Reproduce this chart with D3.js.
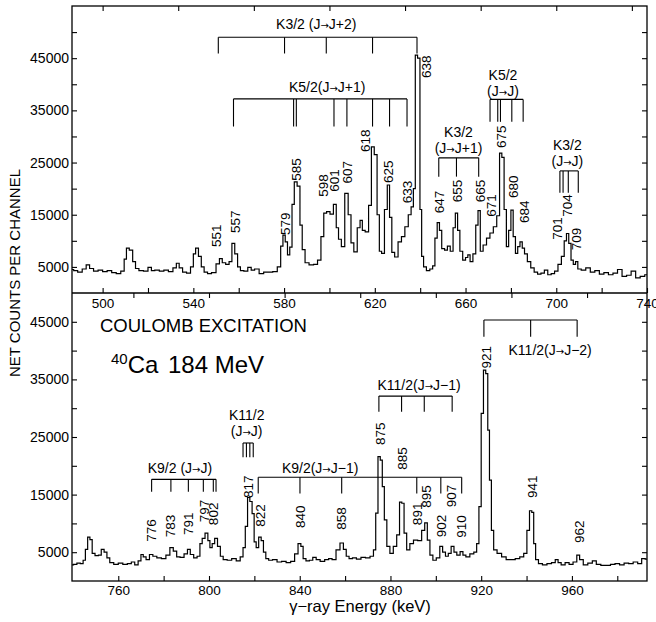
<!DOCTYPE html>
<html>
<head>
<meta charset="utf-8">
<script src="https://cdn.jsdelivr.net/npm/d3@7"></script>
<style>
  body { margin: 0; background: #fff; }
  svg { font-family: "Liberation Sans", Arial, sans-serif; }
</style>
</head>
<body>
<svg id="chart" width="656" height="622"></svg>
<script>
// net counts per channel, [keV, counts]
const upperSpectrum = [
  [486.5, 4500], [488, 4300], [490, 4000], [492, 4600], [493.5, 5400], [495, 4700], [497, 4200],
  [499, 4400], [501, 4100], [503, 4300], [505, 3900], [507, 3700], [509, 4200], [510, 6500],
  [511, 8600], [512.5, 8200], [514, 6000], [515, 4700], [517, 4300], [519, 4200], [521, 4900],
  [522, 4300], [524, 4400], [526, 4200], [528, 4400], [530, 4100], [532, 4800], [533, 5700],
  [534.5, 4800], [536, 4000], [538, 3800], [539.5, 5000], [540.5, 7500], [541.5, 8600], [543, 7000],
  [544, 5000], [545.5, 4000], [547, 3700], [549, 3900], [551, 5600], [552, 6600], [553.5, 5800],
  [555, 5500], [556.5, 6000], [557.5, 9500], [559, 7500], [560, 5000], [561.5, 4300], [563, 4200],
  [565, 4900], [566, 4400], [568, 4600], [570, 3700], [572, 4000], [574, 4000], [576, 4100],
  [578, 5000], [579, 9000], [580, 11100], [581, 9800], [582, 7300], [583, 8800], [584, 17000],
  [585, 21300], [586.5, 20500], [587.5, 13000], [588.5, 8300], [590, 5800], [592, 5400], [594, 5500],
  [595.5, 6300], [597, 10800], [598, 15300], [599.5, 15600], [601, 15100], [602.5, 17000],
  [603.5, 12500], [604.5, 10300], [606, 8900], [607.5, 19100], [609, 15000], [610, 9600],
  [611.5, 7900], [613, 12500], [614, 13900], [615, 12000], [616.5, 11700], [618, 16800],
  [619, 28000], [620.5, 26500], [621.5, 15000], [622.5, 8000], [623.5, 7600], [625, 16000],
  [626, 20700], [627, 14500], [628, 7800], [629.5, 6900], [631, 9800], [632.5, 10800], [634, 12700],
  [635.5, 15000], [636.5, 16500], [637.5, 20000], [638.2, 45600], [639.5, 45000], [640.3, 16000],
  [641, 7000], [642, 5000], [643.5, 4300], [645, 4600], [646, 5200], [647, 10500], [648, 13500],
  [649, 12000], [650, 8500], [651.5, 8200], [652.5, 9000], [654, 8000], [655, 12500], [656, 15300],
  [657, 12000], [658, 8000], [659.5, 6300], [660.5, 6800], [661.5, 7300], [662.5, 6000], [664, 7500],
  [665, 13000], [666, 15800], [667, 8000], [668.5, 9200], [670, 10500], [671.5, 11500], [673, 12700],
  [674.5, 14800], [675.5, 26800], [676.5, 26000], [677.5, 16000], [678.5, 8900], [679.5, 12000],
  [680.5, 15900], [681.5, 10800], [682.5, 7600], [683.5, 8900], [684.5, 9800], [685.5, 8600],
  [686.5, 7500], [688, 6000], [689.5, 4800], [691, 4000], [692.5, 3600], [694, 3800], [695.5, 4400],
  [697, 3500], [698.5, 3700], [700, 4200], [701.5, 5500], [703, 7000], [704, 10000], [705, 11400],
  [706, 9500], [707, 6300], [708, 5500], [709, 6000], [710, 4600], [712, 4400], [714, 4800],
  [716, 4000], [718, 4300], [720, 3600], [722, 3900], [724, 3500], [726, 3800], [728, 4500],
  [730, 3200], [732, 3400], [734, 4200], [736, 2900], [738, 3200], [740, 3500]
];

const lowerSpectrum = [
  [739.6, 2800], [741, 2900], [742.5, 3100], [744, 3000], [745, 3600], [746, 5500], [747, 7600],
  [748, 7200], [749, 4800], [750.5, 4400], [752, 4500], [753, 5500], [754.5, 5000], [755.5, 4000],
  [757, 3200], [759, 2900], [761, 3100], [763, 2900], [765, 3000], [766.5, 3300], [768, 2800],
  [769.5, 3500], [770.5, 4600], [771.5, 4200], [773, 3700], [774.5, 4600], [776, 4300], [778, 4000],
  [780, 3900], [782, 4500], [783.5, 5800], [785, 5200], [786.5, 4200], [788, 4100], [790, 4700],
  [791, 5500], [792.5, 4600], [794, 4000], [795.5, 4300], [796.5, 6500], [797.5, 7400], [799, 8300],
  [800, 7000], [800.8, 5800], [802, 6500], [803, 7400], [804.5, 6000], [805.5, 4300], [807, 3700],
  [809, 3600], [811, 3900], [813, 3500], [814.5, 4200], [815.5, 5800], [816.5, 9500], [817.5, 14500],
  [818.5, 13800], [819.5, 11700], [820.3, 6800], [821.3, 5800], [822.5, 7600], [823.5, 7000],
  [824.5, 5000], [825.6, 3900], [827, 3600], [829, 3700], [831, 3300], [833, 3400], [835, 3200],
  [837, 3400], [838.5, 4700], [840, 6500], [841, 6000], [842, 3900], [843.5, 3500], [845, 3600],
  [846.5, 4100], [848, 3700], [850, 3400], [852, 3700], [853.5, 3900], [855, 3700], [857, 5400],
  [858.5, 6600], [860, 5500], [861, 4300], [862.5, 3900], [864, 4000], [866, 3800], [868, 4100],
  [870, 4000], [872, 4300], [873, 5400], [874, 11800], [875, 21600], [876, 21000], [876.8, 16400],
  [877.8, 10600], [879, 6000], [880.5, 4800], [882, 6000], [883.5, 8000], [884.5, 13700],
  [885.5, 13500], [886.5, 8300], [887.8, 5400], [889.3, 6500], [891, 7100], [893, 7000],
  [894.5, 8800], [895.7, 10100], [896.8, 7100], [898, 4500], [899.4, 3600], [901, 4000],
  [902.5, 6000], [903.5, 5000], [905, 4300], [906, 4800], [907.5, 6000], [908.5, 5000], [910, 4500],
  [911.4, 5100], [912.5, 4500], [914, 4200], [916, 4700], [917.5, 5000], [918.5, 6500],
  [919.5, 12900], [920.5, 29100], [921.5, 36600], [922.5, 36000], [923.3, 26200], [924, 17500],
  [925, 8800], [926, 5400], [928, 4800], [930, 4200], [932, 3700], [934, 3700], [936, 3900],
  [938, 4200], [939.5, 4800], [940.8, 8800], [941.8, 12200], [942.8, 11900], [943.5, 6500],
  [944.5, 3700], [946, 3000], [948, 2800], [950, 3000], [952, 3200], [953.3, 3700], [954.5, 3200],
  [956, 2800], [958, 3200], [959.5, 2900], [961.5, 3300], [962.8, 4500], [964, 3700], [966, 2800],
  [968, 3100], [970, 3500], [971.5, 2900], [974, 2700], [976, 2700], [978, 2900], [980, 3000],
  [982, 2800], [984, 3100], [986, 3000], [988, 3300], [990, 3000], [991.5, 3900], [993.1, 3800]
];

// axis ticks / labels
const upperXTicks = [500, 520, 540, 560, 580, 600, 620, 640, 660, 680, 700, 720, 740];
const upperXLabels = [500, 540, 580, 620, 660, 700, 740];
const upperEdgeTicks = [500, 533.33, 566.67, 600, 633.33, 666.67, 700, 733.33];
const lowerXTicks = [760, 780, 800, 820, 840, 860, 880, 900, 920, 940, 960, 980];
const lowerXLabels = [760, 800, 840, 880, 920, 960];
const lowerEdgeTicks = [766.67, 800, 833.33, 866.67, 900, 933.33, 966.67];
const upperYTicks = [5000, 10000, 15000, 20000, 25000, 30000, 35000, 40000, 45000, 50000];
const lowerYTicks = [5000, 10000, 15000, 20000, 25000, 30000, 35000, 40000, 45000];
const yLabels = [5000, 15000, 25000, 35000, 45000];

// peak energy labels: text, [keV, counts] where the rotated label starts
const upperPeakNames = ['551', '557', '579', '585', '598', '601', '607', '618', '625', '633', '638',
  '647', '655', '665', '671', '675', '680', '684', '701', '704', '709'];
const upperPeakSpots = [[550.3, 8800], [558.4, 11500], [580.5, 11100], [585.2, 21500],
  [597.4, 18450], [602.3, 19400], [607.9, 21000], [616, 27000], [626.1, 21100], [634.2, 17200],
  [642.6, 41200], [648.5, 15300], [656.3, 17400], [666.3, 17400], [671.3, 14600], [675.9, 27800],
  [681, 18200], [686, 13400], [700.4, 10200], [704.9, 14600], [709, 8200]];
const lowerPeakNames = ['776', '783', '791', '797', '802', '817', '822', '840', '858', '875', '885',
  '891', '895', '902', '907', '910', '921', '941', '962'];
const lowerPeakSpots = [[774.7, 6800], [783.1, 7600], [790.9, 8000], [797.8, 10200], [801.9, 9700],
  [817.3, 14400], [822.5, 9400], [840.1, 9200], [858.5, 8900], [875.4, 23600], [885, 19300],
  [891.6, 9700], [896, 12700], [902.6, 7600], [907, 12800], [911.4, 7500], [922.4, 36900],
  [942.3, 14400], [963.3, 6600]];

// band assignments (keV of each line in a bracket)
const k32Plus2 = [551, 580.2, 598.6, 619, 638.6];
const k52Plus1 = [557.7, 584.2, 585.4, 602, 607.7, 619, 626.5, 634.2];
const k32Plus1 = [648.2, 656, 665.8];
const k52Same = [670.8, 674.2, 675.4, 680.4, 685.4];
const k32Same = [701.6, 703, 705.3, 709.7];
const k112Minus2 = [921.2, 941.8, 962.3];
const k112Minus1 = [874.9, 884.9, 894.9, 907.2];
const k92Minus1 = [821.7, 840.1, 858.5, 891.6, 902.2, 911.4];
const k92Same = [774.7, 783.2, 790.9, 797.5, 801.9, 803.1];
const k112Same = [815, 816.5, 818, 819.5];

const upperBrackets = [
  {lines: k32Plus2, bar: 49000, drop: 45900, text: [['K3/2 (J→J+2)', 594.2, 50500]]},
  {lines: k52Plus1, bar: 37200, drop: 31900, text: [['K5/2(J→J+1)', 599, 38600]]},
  {lines: k32Plus1, bar: 25900, drop: 22300, text: [['K3/2', 656.9, 29900], ['(J→J+1)', 656.9, 26800]]},
  {lines: k52Same, bar: 37100, drop: 32800, text: [['K5/2', 676.5, 40800], ['(J→J)', 676.5, 37750]]},
  {lines: k32Same, bar: 23400, drop: 19200, text: [['K3/2', 704.9, 27400], ['(J→J)', 704.9, 24300]]}
];
const lowerBrackets = [
  {lines: k112Minus2, bar: 45300, drop: 42400, text: [['K11/2(J→J−2)', 950.4, 39200]]},
  {lines: k112Minus1, bar: 32100, drop: 29400, text: [['K11/2(J→J−1)', 892.6, 33150]]},
  {lines: k92Minus1, bar: 18000, drop: 15200, text: [['K9/2(J→J−1)', 849, 18750]]},
  {lines: k92Same, bar: 17650, drop: 15500, text: [['K9/2 (J→J)', 787.2, 18750]]},
  {lines: k112Same, bar: 23960, drop: 21500, text: [['K11/2', 816.6, 27950], ['(J→J)', 816.6, 25170]]}
];

const svg = d3.select('#chart');
const left = 72, right = 647;

const panels = [
  {spectrum: upperSpectrum, xDomain: [486.5, 740], yDomain: [0, 55000], top: 6, bottom: 293,
    xTicks: upperXTicks, xLabels: upperXLabels, edgeTicks: upperEdgeTicks, yTicks: upperYTicks,
    names: upperPeakNames, spots: upperPeakSpots, brackets: upperBrackets, labelPad: 5},
  {spectrum: lowerSpectrum, xDomain: [739.6, 993.1], yDomain: [0, 50000], top: 293, bottom: 581,
    xTicks: lowerXTicks, xLabels: lowerXLabels, edgeTicks: lowerEdgeTicks, yTicks: lowerYTicks,
    names: lowerPeakNames, spots: lowerPeakSpots, brackets: lowerBrackets, labelPad: 4}
];

function tidy(sel) {
  sel.select('.domain').remove();
  sel.attr('font-family', null).attr('font-size', 13.5);
  sel.selectAll('.tick line').attr('stroke', '#000').attr('stroke-width', 1.1);
  sel.selectAll('.tick text').attr('fill', '#000');
}

// arrow glyph isn't in Liberation Sans, take it from DejaVu at a smaller size
function withArrows(sel) {
  sel.each(function(d) {
    const t = d3.select(this);
    d[0].split('→').forEach((part, i) => {
      if (i > 0) {
        t.append('tspan')
          .attr('font-family', '"DejaVu Sans"')
          .attr('font-size', 10)
          .text('→');
      }
      t.append('tspan').text(part);
    });
  });
}

panels.forEach(p => {
  const x = d3.scaleLinear().domain(p.xDomain).range([left, right]);
  const y = d3.scaleLinear().domain(p.yDomain).range([p.bottom, p.top]);
  const g = svg.append('g');

  g.append('g').attr('transform', `translate(${left},0)`)
    .call(d3.axisLeft(y).tickValues(p.yTicks).tickSize(-5).tickPadding(3)
      .tickFormat(d => yLabels.includes(d) ? d : ''))
    .call(tidy)
    .attr('font-size', 14);
  g.append('g').attr('transform', `translate(${right},0)`)
    .call(d3.axisRight(y).tickValues(p.yTicks).tickSize(-5).tickFormat(''))
    .call(tidy);
  g.append('g').attr('transform', `translate(0,${p.bottom})`)
    .call(d3.axisBottom(x).tickValues(p.xTicks).tickSize(-5).tickPadding(p.labelPad)
      .tickFormat(d => p.xLabels.includes(d) ? d : ''))
    .call(tidy);
  g.append('g').attr('transform', `translate(0,${p.top})`)
    .call(d3.axisTop(x).tickValues(p.edgeTicks).tickSize(-5).tickFormat(''))
    .call(tidy);

  const line = d3.line()
    .x(d => x(d[0]))
    .y(d => y(d[1]))
    .curve(d3.curveStep);

  g.append('path')
    .datum(p.spectrum)
    .attr('fill', 'none')
    .attr('stroke', '#000')
    .attr('stroke-width', 1.2)
    .attr('d', line);

  // peak energies, rotated
  g.selectAll('.peak')
    .data(p.names)
    .join('text')
    .attr('class', 'peak')
    .attr('transform', (d, i) => `translate(${x(p.spots[i][0])},${y(p.spots[i][1])}) rotate(-90)`)
    .attr('dy', '0.35em')
    .attr('font-size', 13.5)
    .text(d => d);

  // band brackets
  p.brackets.forEach(b => {
    const bg = g.append('g').attr('stroke', '#000').attr('stroke-width', 1.1);
    bg.append('line')
      .attr('x1', x(d3.min(b.lines))).attr('x2', x(d3.max(b.lines)))
      .attr('y1', y(b.bar)).attr('y2', y(b.bar));
    bg.selectAll('.drop')
      .data(b.lines)
      .join('line')
      .attr('x1', d => x(d)).attr('x2', d => x(d))
      .attr('y1', y(b.bar)).attr('y2', y(b.drop));
    g.selectAll(null)
      .data(b.text)
      .join('text')
      .attr('x', d => x(d[1]))
      .attr('y', d => y(d[2]))
      .attr('text-anchor', 'middle')
      .attr('font-size', 14)
      .call(withArrows);
  });
});

// frame
svg.append('rect')
  .attr('x', left).attr('y', 6)
  .attr('width', right - left).attr('height', 581 - 6)
  .attr('fill', 'none').attr('stroke', '#000').attr('stroke-width', 1.3);
svg.append('line')
  .attr('x1', left).attr('x2', right).attr('y1', 293).attr('y2', 293)
  .attr('stroke', '#000').attr('stroke-width', 1.3);

// titles
svg.append('text')
  .attr('x', 100).attr('y', 332)
  .attr('font-size', 18.5)
  .text('COULOMB EXCITATION');

const beam = svg.append('text').attr('x', 111).attr('y', 373).attr('font-size', 24);
beam.append('tspan').attr('font-size', 15).attr('dy', -9).text('40');
beam.append('tspan').attr('dy', 9).text('Ca');
beam.append('tspan').attr('x', 168).text('184 MeV');

svg.append('text')
  .attr('transform', 'translate(20,273) rotate(-90)')
  .attr('text-anchor', 'middle')
  .attr('font-size', 15)
  .text('NET COUNTS PER CHANNEL');

svg.append('text')
  .attr('x', 360).attr('y', 612)
  .attr('text-anchor', 'middle')
  .attr('font-size', 16.5)
  .text('γ−ray Energy (keV)');
</script>
</body>
</html>
